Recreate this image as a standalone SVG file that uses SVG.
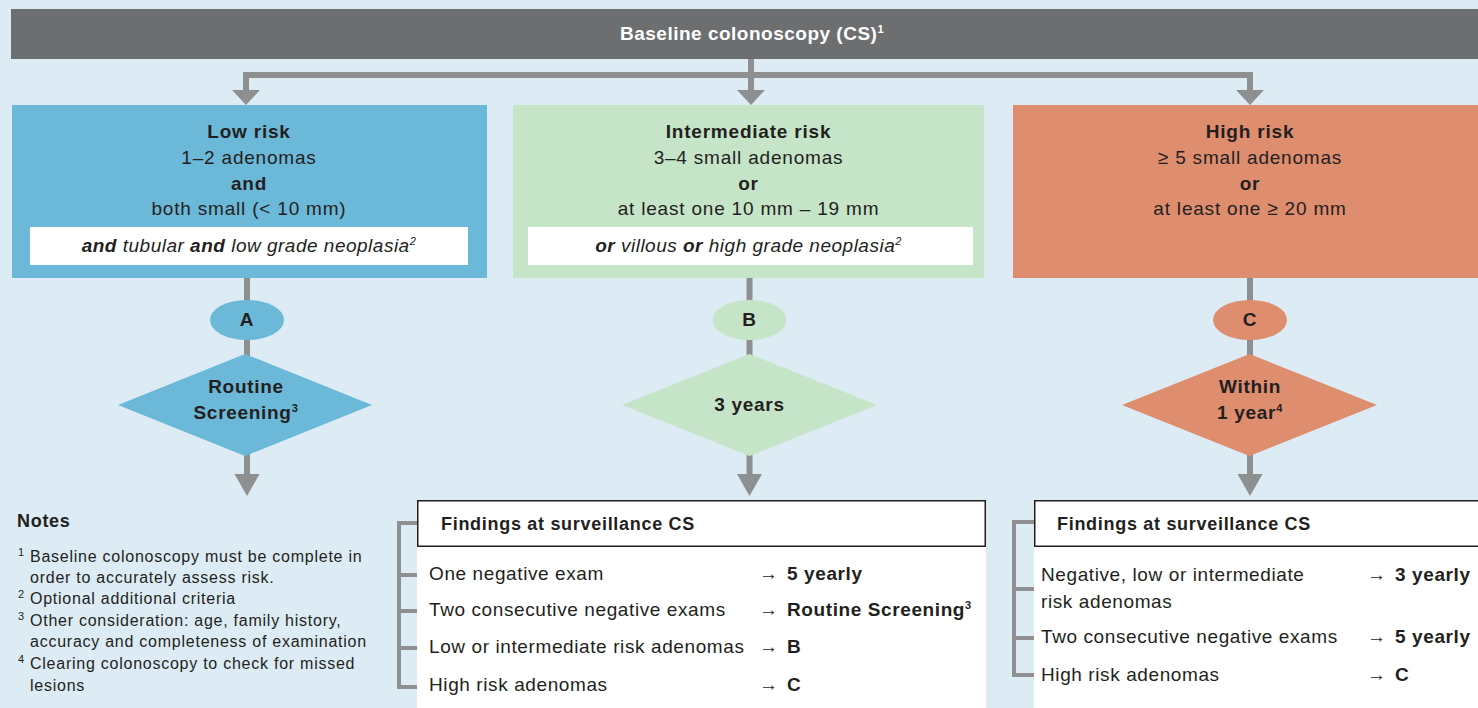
<svg xmlns="http://www.w3.org/2000/svg" width="1478" height="708" viewBox="0 0 1478 708">
<style>
text{font-family:"Liberation Sans",Arial,"DejaVu Sans",sans-serif;fill:#231f20}
.t{font-size:19px;letter-spacing:0.8px;text-anchor:middle}
.b{font-weight:bold}
.it{font-size:19px;letter-spacing:0.5px;text-anchor:middle;font-style:italic}
.dt{font-size:19px;letter-spacing:0.7px;text-anchor:middle;font-weight:bold}
.hd{font-size:18px;letter-spacing:0.7px;font-weight:bold}
.r{font-size:19px;letter-spacing:0.6px}
.n{font-size:16px;letter-spacing:0.75px}
.sup{font-size:11px}
.con{fill:none;stroke:#8e8f91;stroke-width:6}
.br{fill:none;stroke:#8e8f91;stroke-width:4}
.ah{fill:#8e8f91}
.blue{fill:#6cb8d9}
.green{fill:#c6e4c8}
.orange{fill:#df8d6f}
</style>
<defs>
<path id="ahTop" d="M-14,0 L14,0 L0,15 Z"/>
<path id="ahBot" d="M-12.5,0 L12.5,0 L0,22 Z"/>
</defs>
<rect x="0" y="0" width="1478" height="708" fill="#dcebf4"/>

<g id="connectors">
<path class="con" d="M751,59 V91"/>
<path class="con" d="M246,91 V75 H1250 V91" stroke-linejoin="miter"/>
<use href="#ahTop" class="ah" x="246" y="90"/>
<use href="#ahTop" class="ah" x="751" y="90"/>
<use href="#ahTop" class="ah" x="1250" y="90"/>
<path class="con" d="M247,278 V476"/>
<path class="con" d="M749.5,278 V476"/>
<path class="con" d="M1250,278 V476"/>
<use href="#ahBot" class="ah" x="247" y="474"/>
<use href="#ahBot" class="ah" x="749.5" y="474"/>
<use href="#ahBot" class="ah" x="1250" y="474"/>
<path class="br" d="M417,523 H399 V687 H417 M399,575 H417 M399,611 H417 M399,648 H417"/>
<path class="br" d="M1034,522 H1014 V675 H1034 M1014,589 H1034 M1014,638 H1034"/>
</g>

<g id="baseline">
<rect x="11" y="9" width="1467" height="50" fill="#6d6e70"/>
<text class="t b" x="752" y="40" style="fill:#ffffff;letter-spacing:0.5px">Baseline colonoscopy (CS)<tspan class="sup" dy="-7">1</tspan></text>
</g>

<g id="low-risk">
<rect class="blue" x="12" y="105" width="475" height="173"/>
<text class="t b" x="249" y="138">Low risk</text>
<text class="t" x="249" y="164">1–2 adenomas</text>
<text class="t b" x="249" y="190">and</text>
<text class="t" x="249" y="215">both small (&lt; 10 mm)</text>
<rect x="30" y="227" width="438" height="38" fill="#ffffff"/>
<text class="it" x="249" y="252"><tspan font-weight="bold">and</tspan> tubular <tspan font-weight="bold">and</tspan> low grade neoplasia<tspan class="sup" dy="-7">2</tspan></text>
</g>

<g id="intermediate-risk">
<rect class="green" x="513" y="105" width="471" height="173"/>
<text class="t b" x="748.5" y="138">Intermediate risk</text>
<text class="t" x="748.5" y="164">3–4 small adenomas</text>
<text class="t b" x="748.5" y="190">or</text>
<text class="t" x="748.5" y="215">at least one 10 mm – 19 mm</text>
<rect x="528" y="227" width="445" height="38" fill="#ffffff"/>
<text class="it" x="748.5" y="252"><tspan font-weight="bold">or</tspan> villous <tspan font-weight="bold">or</tspan> high grade neoplasia<tspan class="sup" dy="-7">2</tspan></text>
</g>

<g id="high-risk">
<rect class="orange" x="1013" y="105" width="475" height="173"/>
<text class="t b" x="1250" y="138">High risk</text>
<text class="t" x="1250" y="164">≥ 5 small adenomas</text>
<text class="t b" x="1250" y="190">or</text>
<text class="t" x="1250" y="215">at least one ≥ 20 mm</text>
</g>

<g id="node-A">
<ellipse class="blue" cx="247" cy="320" rx="37" ry="20"/>
<text class="dt" x="247" y="326">A</text>
</g>
<g id="node-B">
<ellipse class="green" cx="749.5" cy="320" rx="37" ry="20"/>
<text class="dt" x="749.5" y="326">B</text>
</g>
<g id="node-C">
<ellipse class="orange" cx="1250" cy="320" rx="37" ry="20"/>
<text class="dt" x="1250" y="326">C</text>
</g>

<g id="routine-screening">
<polygon class="blue" points="245,354 372,405 245,456 118,405"/>
<text class="dt" x="246" y="393">Routine</text>
<text class="dt" x="246" y="419">Screening<tspan class="sup" dy="-7">3</tspan></text>
</g>
<g id="three-years">
<polygon class="green" points="749.5,354 877,405 749.5,456 622,405"/>
<text class="dt" x="749.5" y="411">3 years</text>
</g>
<g id="within-1-year">
<polygon class="orange" points="1249.5,354 1377,405 1249.5,456 1122,405"/>
<text class="dt" x="1250" y="393">Within</text>
<text class="dt" x="1250" y="419">1 year<tspan class="sup" dy="-7">4</tspan></text>
</g>

<g id="notes">
<text class="hd" x="17" y="527">Notes</text>
<text class="sup" x="18" y="556">1</text>
<text class="n" x="30" y="562">Baseline colonoscopy must be complete in</text>
<text class="n" x="30" y="583">order to accurately assess risk.</text>
<text class="sup" x="18" y="598">2</text>
<text class="n" x="30" y="604">Optional additional criteria</text>
<text class="sup" x="18" y="620">3</text>
<text class="n" x="30" y="626">Other consideration: age, family history,</text>
<text class="n" x="30" y="647">accuracy and completeness of examination</text>
<text class="sup" x="18" y="663">4</text>
<text class="n" x="30" y="669">Clearing colonoscopy to check for missed</text>
<text class="n" x="30" y="691">lesions</text>
</g>

<g id="findings-B">
<rect x="417" y="546" width="569" height="162" fill="#ffffff"/>
<rect x="417.75" y="500.75" width="567.5" height="45.5" fill="#ffffff" stroke="#231f20" stroke-width="1.5"/>
<text class="hd" x="441" y="530">Findings at surveillance CS</text>
<text class="r" x="429" y="580">One negative exam</text>
<text class="r" x="759" y="580">→</text>
<text class="r b" x="787" y="580">5 yearly</text>
<text class="r" x="429" y="616">Two consecutive negative exams</text>
<text class="r" x="759" y="616">→</text>
<text class="r b" x="787" y="616">Routine Screening<tspan class="sup" dy="-7">3</tspan></text>
<text class="r" x="429" y="653">Low or intermediate risk adenomas</text>
<text class="r" x="759" y="653">→</text>
<text class="r b" x="787" y="653">B</text>
<text class="r" x="429" y="691">High risk adenomas</text>
<text class="r" x="759" y="691">→</text>
<text class="r b" x="787" y="691">C</text>
</g>

<g id="findings-C">
<rect x="1034" y="546" width="444" height="162" fill="#ffffff"/>
<rect x="1034.75" y="500.75" width="450" height="45.5" fill="#ffffff" stroke="#231f20" stroke-width="1.5"/>
<text class="hd" x="1057" y="530">Findings at surveillance CS</text>
<text class="r" x="1041" y="581">Negative, low or intermediate</text>
<text class="r" x="1041" y="608">risk adenomas</text>
<text class="r" x="1367" y="581">→</text>
<text class="r b" x="1395" y="581">3 yearly</text>
<text class="r" x="1041" y="643">Two consecutive negative exams</text>
<text class="r" x="1367" y="643">→</text>
<text class="r b" x="1395" y="643">5 yearly</text>
<text class="r" x="1041" y="681">High risk adenomas</text>
<text class="r" x="1367" y="681">→</text>
<text class="r b" x="1395" y="681">C</text>
</g>
</svg>
